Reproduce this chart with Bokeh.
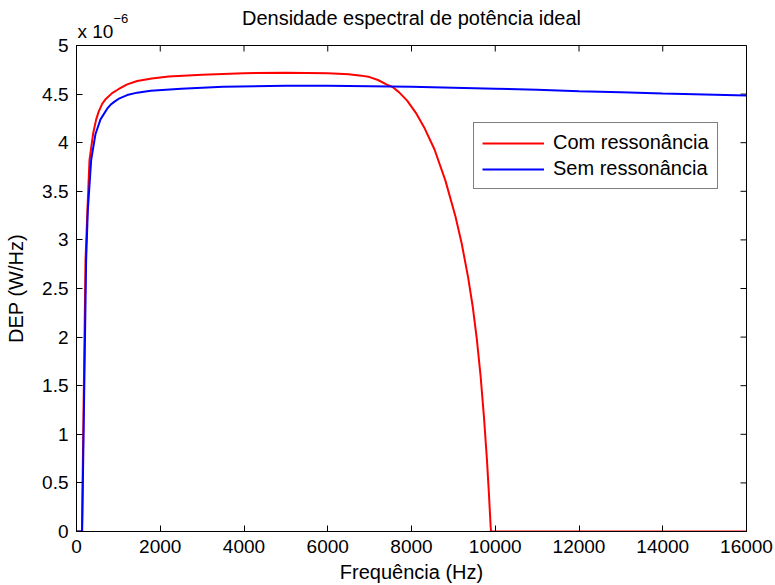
import math
from bokeh.plotting import figure
from bokeh.models import Range1d, FixedTicker, Legend, LegendItem, Label
from bokeh.embed import file_html
from bokeh.resources import INLINE

# Com ressonância (DEP in units of 1e-6 W/Hz)
freq_com = [0, 130, 215, 260, 310, 400, 470, 530, 613, 700, 850, 1000, 1210, 1450, 1800, 2200,
            3000, 4000, 5000, 6000, 6500, 6800, 7000, 7200, 7400, 7540, 7700, 7900, 8100,
            8300, 8550, 8810, 9050, 9200, 9350, 9460, 9560, 9650, 9730, 9800, 9850, 9890,
            9900, 16000]
dep_com = [0, 0, 2.79, 3.3, 3.82, 4.10, 4.24, 4.32, 4.40, 4.45, 4.51, 4.55, 4.60, 4.635, 4.66,
           4.68, 4.70, 4.715, 4.72, 4.715, 4.705, 4.69, 4.675, 4.645, 4.60, 4.575, 4.52, 4.43,
           4.31, 4.16, 3.93, 3.61, 3.24, 2.96, 2.62, 2.32, 1.98, 1.60, 1.18, 0.75, 0.38, 0.05,
           0, 0]

# Sem ressonância
freq_sem = [0, 135, 230, 270, 350, 454, 573, 733, 812, 900, 1000, 1210, 1450, 1770, 2500,
            3500, 5000, 6000, 7000, 8000, 9000, 10000, 11000, 12000, 13000, 14000, 15000, 16000]
dep_sem = [0, 0, 2.79, 3.3, 3.82, 4.09, 4.24, 4.35, 4.39, 4.42, 4.45, 4.49, 4.515, 4.535, 4.555,
           4.575, 4.585, 4.585, 4.58, 4.575, 4.565, 4.555, 4.545, 4.53, 4.52, 4.505, 4.495, 4.485]

x_ticks = [0, 2000, 4000, 6000, 8000, 10000, 12000, 14000, 16000]
y_ticks = [0, 0.5, 1, 1.5, 2, 2.5, 3, 3.5, 4, 4.5, 5]
X_MAX = 16000
Y_MAX = 5

FONT = "Liberation Sans"
FS = "19px"
FS_LAB = "20px"

p = figure(width=775, height=585, output_backend="svg", toolbar_location=None,
           x_range=Range1d(0, X_MAX), y_range=Range1d(0, Y_MAX),
           min_border_left=76, min_border_right=29, min_border_top=45, min_border_bottom=53,
           title="Densidade espectral de potência ideal")
p.title.align = "center"
p.title.text_font = FONT
p.title.text_font_size = FS_LAB
p.title.text_font_style = "normal"
p.title.text_color = "black"
p.title.standoff = -8

p.grid.visible = False
p.outline_line_color = "black"
p.outline_line_width = 1
p.background_fill_color = "white"
p.border_fill_color = "white"

def style_axis(ax):
    ax.major_tick_in = 6
    ax.major_tick_out = 0
    ax.minor_tick_in = 0
    ax.minor_tick_out = 0
    ax.axis_line_color = "black"
    ax.major_tick_line_color = "black"
    ax.major_label_text_font = FONT
    ax.major_label_text_font_size = FS
    ax.major_label_text_color = "black"
    ax.axis_label_text_font = FONT
    ax.axis_label_text_font_size = FS_LAB
    ax.axis_label_text_font_style = "normal"
    ax.axis_label_text_color = "black"

xa = p.xaxis[0]
xa.ticker = FixedTicker(ticks=x_ticks)
xa.axis_label = "Frequência (Hz)"
style_axis(xa)
xa.major_label_standoff = 8
xa.axis_label_standoff = 5

ya = p.yaxis[0]
ya.ticker = FixedTicker(ticks=y_ticks)
ya.axis_label = "DEP (W/Hz)"
style_axis(ya)
ya.major_label_standoff = 8
ya.axis_label_standoff = 12

# mirrored inward ticks on top and right edges (half of each dash is clipped by the frame)
p.scatter(x=x_ticks, y=[Y_MAX] * len(x_ticks), marker="dash", angle=math.pi / 2,
          size=12, line_color="black", line_width=1)
p.scatter(x=[X_MAX] * len(y_ticks), y=y_ticks, marker="dash", angle=0,
          size=12, line_color="black", line_width=1)

r1 = p.line(freq_com, dep_com, line_color="#ff0000", line_width=2)
r2 = p.line(freq_sem, dep_sem, line_color="#0000ff", line_width=2)

legend = Legend(items=[LegendItem(label="Com ressonância", renderers=[r1]),
                       LegendItem(label="Sem ressonância", renderers=[r2])],
                location=(397, 342))
legend.label_text_font = FONT
legend.label_text_font_size = "20px"
legend.label_text_color = "black"
legend.glyph_width = 62
legend.glyph_height = 20
legend.label_height = 20
legend.label_standoff = 9
legend.spacing = 3
legend.padding = 8
legend.margin = 0
legend.border_line_color = "black"
legend.border_line_width = 1
legend.background_fill_color = "white"
legend.background_fill_alpha = 1
p.add_layout(legend, "center")

# axis multiplier "x 10^-6" (placed in side panels so it is not clipped to the frame)
lab1 = Label(x=0, y=Y_MAX, x_offset=1, y_offset=14, text="x 10", text_font=FONT,
             text_font_size=FS, text_baseline="middle", text_align="left", text_color="black")
lab2 = Label(x=0, y=Y_MAX, x_offset=37, y_offset=27, text="\u22126", text_font=FONT,
             text_font_size="13px", text_baseline="middle", text_align="left", text_color="black")
p.add_layout(lab1, "above")
p.add_layout(lab2, "right")

open("out.html", "w").write(file_html(p, INLINE))
